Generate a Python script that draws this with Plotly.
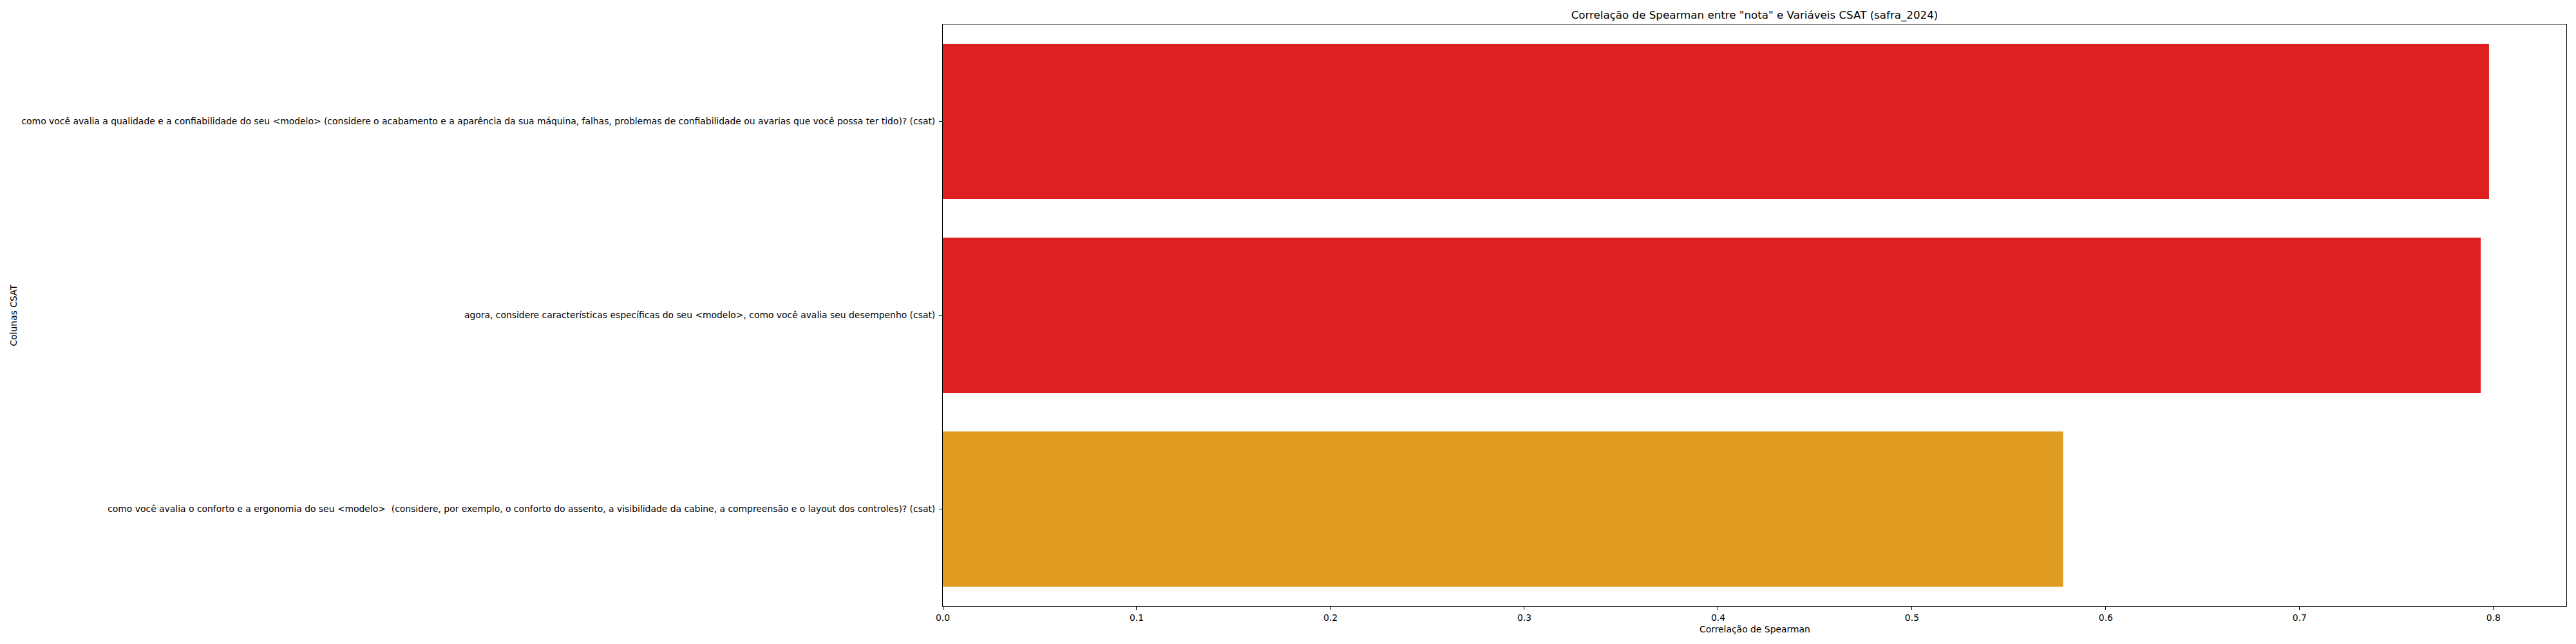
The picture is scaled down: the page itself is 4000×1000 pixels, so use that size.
import plotly.graph_objects as go

categories = [
    "como você avalia a qualidade e a confiabilidade do seu <modelo> (considere o acabamento e a aparência da sua máquina, falhas, problemas de confiabilidade ou avarias que você possa ter tido)? (csat)",
    "agora, considere características específicas do seu <modelo>, como você avalia seu desempenho (csat)",
    "como você avalia o conforto e a ergonomia do seu <modelo>  (considere, por exemplo, o conforto do assento, a visibilidade da cabine, a compreensão e o layout dos controles)? (csat)",
]
spearman = [0.7977, 0.7934, 0.5780]
bar_colors = ["#DF2020", "#DF2020", "#DF9C20"]
x_ticks = [0.0, 0.1, 0.2, 0.3, 0.4, 0.5, 0.6, 0.7, 0.8]

def esc(s):
    return s.replace("&", "&amp;").replace("<", "&lt;").replace(">", "&gt;").replace("  ", " \u00a0")

labels = [esc(c) for c in categories]
FONT = "DejaVu Sans"
fs = 13.9

fig = go.Figure(go.Bar(
    x=spearman, y=labels, orientation="h",
    marker=dict(color=bar_colors, line=dict(width=0)),
    hoverinfo="x+y",
))

xmax = max(spearman) * 1.05
fig.update_layout(
    width=4000, height=1000,
    margin=dict(l=1464, r=15, t=38, b=59, autoexpand=False),
    paper_bgcolor="white", plot_bgcolor="white",
    bargap=0.2, showlegend=False,
    font=dict(family=FONT, size=fs, color="black"),
    title=dict(text='Correlação de Spearman entre "nota" e Variáveis CSAT (safra_2024)',
               x=0.5, xref="paper", xanchor="center",
               y=1 - 23 / 1000, yref="container", yanchor="middle",
               font=dict(family=FONT, size=16.7, color="black")),
    xaxis=dict(range=[0, xmax], tickvals=x_ticks, ticktext=[f"{v:.1f}" for v in x_ticks],
               showgrid=False, zeroline=False, showline=True, linecolor="black", linewidth=1.1,
               mirror=True, ticks="outside", ticklen=4.9, tickwidth=1.1, tickcolor="black",
               tickfont=dict(family=FONT, size=fs, color="black"), automargin=False),
    yaxis=dict(type="category", categoryorder="array", categoryarray=labels,
               range=[2.5, -0.5],
               showgrid=False, zeroline=False, showline=True, linecolor="black", linewidth=1.1,
               mirror=True, ticks="outside", ticklen=4.9, tickwidth=1.1, tickcolor="black",
               ticklabelstandoff=3,
               tickfont=dict(family=FONT, size=fs, color="black"), automargin=False),
    annotations=[
        dict(text="Correlação de Spearman", xref="paper", yref="paper",
             x=0.5, y=(941 - 977) / 903, xanchor="center", yanchor="middle",
             showarrow=False, font=dict(family=FONT, size=fs, color="black")),
        dict(text="Colunas CSAT", xref="paper", yref="paper", textangle=-90,
             x=(20 - 1464) / 2521, y=0.5, xanchor="center", yanchor="middle",
             showarrow=False, font=dict(family=FONT, size=fs, color="black")),
    ],
)

fig.write_html("out.html", config={"displayModeBar": False},
               post_script="document.body.style.margin='0';document.body.style.padding='0';")
